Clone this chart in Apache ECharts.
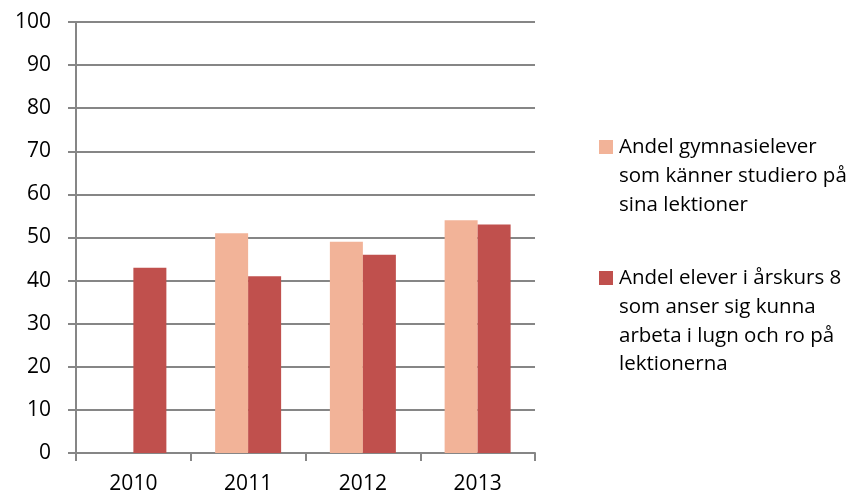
<!DOCTYPE html>
<html>
<head>
<meta charset="utf-8">
<script src="https://cdn.jsdelivr.net/npm/echarts@6/dist/echarts.min.js"></script>
<style>
  html, body { margin: 0; padding: 0; background: #fff; }
  #main { width: 850px; height: 497px; }
</style>
</head>
<body>
<div id="main"></div>
<script>
// data
const years = ["2010", "2011", "2012", "2013"];
const gymnasie = [null, 51, 49, 54];
const arskurs8 = [43, 41, 46, 53];
const seriesNames = [
  "Andel gymnasielever\nsom känner studiero på\nsina lektioner",
  "Andel elever i årskurs 8\nsom anser sig kunna\narbeta i lugn och ro på\nlektionerna"
];
const colors = ["#F2B398", "#C0504D"];

const FONT = "'Open Sans'";

let myChart = echarts.init(document.getElementById("main"));
let option = {
  animation: false,
  grid: { left: 76, right: 315, top: 22, bottom: 44 },
  xAxis: {
    type: "category",
    data: years,
    axisLine: { lineStyle: { color: "#868686", width: 2 } },
    axisTick: { show: true, length: 8, lineStyle: { color: "#868686", width: 2 } },
    axisLabel: { color: "#000", fontSize: 21, fontFamily: FONT, margin: 21 },
  },
  yAxis: {
    type: "value",
    min: 0,
    max: 100,
    interval: 10,
    axisLine: { show: true, lineStyle: { color: "#868686", width: 2 } },
    axisTick: { show: true, length: 8, lineStyle: { color: "#868686", width: 2 } },
    splitLine: { lineStyle: { color: "#868686", width: 2 } },
    axisLabel: { color: "#000", fontSize: 21, fontFamily: FONT, margin: 25 },
  },
  series: [
    {
      name: seriesNames[0],
      type: "bar",
      data: gymnasie,
      barWidth: 33,
      barGap: "0%",
      itemStyle: { color: colors[0] },
    },
    {
      name: seriesNames[1],
      type: "bar",
      data: arskurs8,
      barWidth: 33,
      barGap: "0%",
      itemStyle: { color: colors[1] },
    },
  ],
  // legend drawn by hand so the square sits on the first text line
  graphic: [
    { type: "rect", left: 599, top: 140, shape: { width: 14, height: 14 }, style: { fill: colors[0] } },
    { type: "text", left: 619, top: 133, style: { text: seriesNames[0], fill: "#000", font: "20.5px " + FONT, lineHeight: 28.7 } },
    { type: "rect", left: 599, top: 271, shape: { width: 14, height: 14 }, style: { fill: colors[1] } },
    { type: "text", left: 619, top: 264, style: { text: seriesNames[1], fill: "#000", font: "20.5px " + FONT, lineHeight: 28.7 } },
  ],
};
option && myChart.setOption(option);
</script>
</body>
</html>
